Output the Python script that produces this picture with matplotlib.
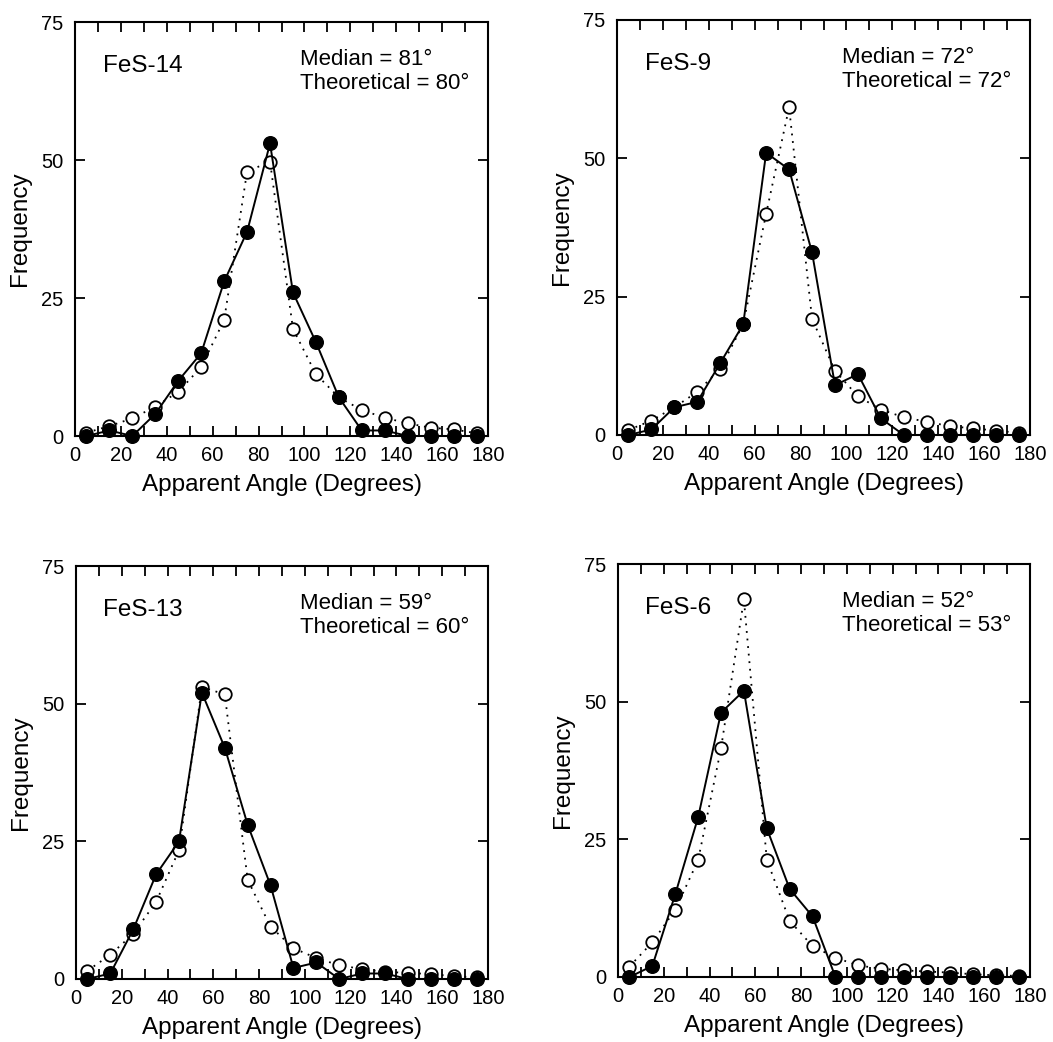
import matplotlib
matplotlib.use("Agg")
import matplotlib.pyplot as plt
from matplotlib.ticker import MultipleLocator, FixedLocator

plt.rcParams['font.family'] = ['Liberation Sans', 'DejaVu Sans']

angles = [5, 15, 25, 35, 45, 55, 65, 75, 85, 95, 105, 115, 125, 135, 145, 155, 165, 175]

names = ["FeS-14", "FeS-9", "FeS-13", "FeS-6"]
medians = [81, 72, 59, 52]
theoreticals = [80, 72, 60, 53]

measured_fes14 = [0, 1, 0, 4, 10, 15, 28, 37, 53, 26, 17, 7, 1, 1, 0, 0, 0, 0]
model_fes14 = [0.6, 1.8, 3.2, 5.3, 8, 12.5, 21, 47.9, 49.7, 19.4, 11.2, 7, 4.7, 3.3, 2.3, 1.5, 1.2, 0.5]

measured_fes9 = [0, 1, 5, 6, 13, 20, 51, 48, 33, 9, 11, 3, 0, 0, 0, 0, 0, 0]
model_fes9 = [0.9, 2.6, 5, 7.8, 12, 20, 40, 59.2, 21, 11.6, 7, 4.6, 3.2, 2.4, 1.6, 1.2, 0.8, 0.4]

measured_fes13 = [0, 1, 9, 19, 25, 52, 42, 28, 17, 2, 3, 0, 1, 1, 0, 0, 0, 0]
model_fes13 = [1.5, 4.4, 8.2, 14, 23.4, 53, 51.7, 18, 9.5, 5.6, 3.8, 2.5, 1.8, 1.3, 1.1, 0.9, 0.5, 0.3]

measured_fes6 = [0, 2, 15, 29, 48, 52, 27, 16, 11, 0, 0, 0, 0, 0, 0, 0, 0, 0]
model_fes6 = [1.9, 6.3, 12.2, 21.2, 41.5, 68.6, 21.3, 10.2, 5.6, 3.5, 2.1, 1.5, 1.2, 1.0, 0.8, 0.5, 0.3, 0.2]

measured = [measured_fes14, measured_fes9, measured_fes13, measured_fes6]
model = [model_fes14, model_fes9, model_fes13, model_fes6]

xticks = [0, 20, 40, 60, 80, 100, 120, 140, 160, 180]
yticks = [0, 25, 50, 75]

fig = plt.figure(figsize=(10.53, 10.42), dpi=100)
W, H = 1053, 1042
boxes = [(75, 22, 488, 436), (617, 20, 1030, 435), (76, 566, 488, 979), (618, 564, 1030, 977)]

for i, (l, t, r, b) in enumerate(boxes):
    ax = fig.add_axes([l / W, 1 - b / H, (r - l) / W, (b - t) / H])
    ax.plot(angles, model[i], linestyle=(0, (1, 3.2)), color='black', lw=1.3,
            marker='o', markersize=9, markerfacecolor='white', markeredgecolor='black',
            markeredgewidth=1.3, clip_on=False, zorder=3)
    ax.plot(angles, measured[i], linestyle='-', color='black', lw=1.4,
            marker='o', markersize=9.8, markerfacecolor='black', markeredgecolor='black',
            clip_on=False, zorder=4)
    ax.set_xlim(0, 180)
    ax.set_ylim(0, 75)
    ax.xaxis.set_major_locator(FixedLocator(xticks))
    ax.xaxis.set_minor_locator(MultipleLocator(10))
    ax.yaxis.set_major_locator(FixedLocator(yticks))
    ax.tick_params(axis='both', which='both', direction='in', top=True, right=True,
                   length=7, width=1.3, labelsize=14.5)
    ax.tick_params(axis='x', which='major', pad=7)
    ax.tick_params(axis='y', which='major', pad=8.5)
    ax.tick_params(axis='y', which='minor', left=False, right=False)
    for s in ax.spines.values():
        s.set_linewidth(1.5)
    ax.set_xlabel("Apparent Angle (Degrees)", fontsize=17.5)
    ax.set_ylabel("Frequency", fontsize=17.5)
    ax.xaxis.set_label_coords(0.5, -38 / (b - t))
    ax.yaxis.set_label_coords(-44 / (r - l), 0.5)
    ax.text(12, 66.0, names[i], fontsize=17.5, va='baseline', ha='left')
    ax.text(98, 67.2, "Median = %d°" % medians[i], fontsize=16, va='baseline', ha='left')
    ax.text(98, 62.9, "Theoretical = %d°" % theoreticals[i], fontsize=16, va='baseline', ha='left')

fig.savefig("out.png", dpi=100)
